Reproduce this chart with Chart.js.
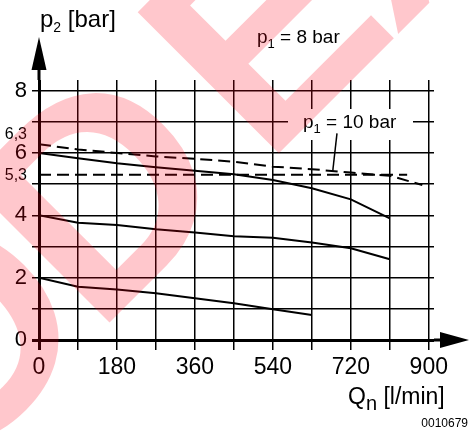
<!DOCTYPE html>
<html>
<head>
<meta charset="utf-8">
<script src="https://cdn.jsdelivr.net/npm/chart.js@4.4.1/dist/chart.umd.min.js"></script>
<style>
  html, body { margin: 0; padding: 0; background: #fff; }
  #wrap { width: 469px; height: 431px; }
</style>
</head>
<body>
<div id="wrap"><canvas id="chart" width="469" height="431"></canvas></div>
<script>
// grid and tick labels
const qGrid = [0, 90, 180, 270, 360, 450, 540, 630, 720, 810, 900];
const qLabels = [0, 180, 360, 540, 720, 900];
const pGrid = [0, 1, 2, 3, 4, 5, 6, 7, 8];
const pLabels = [0, 2, 4, 6, 8];
const pMarks = [6.3, 5.3];
const pMarkText = ['6,3', '5,3'];

// p1 = 8 bar, solid curves
const qHigh = [0, 90, 180, 270, 360, 450, 540, 630, 720, 810];
const p2Set6 = [6.0, 5.83, 5.67, 5.54, 5.43, 5.32, 5.13, 4.87, 4.51, 3.9];
const p2Set4 = [4.0, 3.76, 3.69, 3.55, 3.45, 3.33, 3.28, 3.13, 2.94, 2.59];
const qLow = [0, 90, 180, 270, 360, 450, 540, 630];
const p2Set2 = [2.0, 1.71, 1.62, 1.5, 1.34, 1.18, 0.99, 0.8];

// p1 = 10 bar, dashed curves
const qDash63 = [0, 90, 180, 270, 360, 450, 540, 630, 720, 810, 885];
const p2Set63 = [6.28, 6.11, 6.0, 5.89, 5.81, 5.72, 5.56, 5.48, 5.37, 5.27, 4.97];
const qDash53 = [0, 850];
const p2Set53 = [5.3, 5.3];

// leader from the "p1 = 10 bar" label
const leaderQ = [688, 678];
const leaderP = [6.63, 5.39];

const FONT = '"Liberation Sans", Arial, sans-serif';

function pts(xs, ys) { return xs.map((x, i) => ({ x: x, y: ys[i] })); }

function line(xs, ys, dashed) {
    return {
        data: pts(xs, ys),
        borderColor: '#000',
        borderWidth: 2,
        borderDash: dashed ? [12, 6] : [],
        pointRadius: 0,
        tension: 0,
        fill: false
    };
}

// text with sub parts: [text, size, dy]
function rich(ctx, x, y, parts) {
    ctx.textAlign = 'left';
    ctx.textBaseline = 'alphabetic';
    parts.forEach(p => {
        ctx.font = p[1] + 'px ' + FONT;
        ctx.fillText(p[0], x, y + (p[2] || 0));
        x += ctx.measureText(p[0]).width;
    });
}

// diagonal stamp letters: [char, offset along the baseline, align]
function stamp(ctx) {
    const em = 290;
    const letters = [['O', -271, 'center'], ['D', -170, 'left'],
                     ['E', 110 - 0.14 * em, 'left'], ['X', 255, 'left']];
    ctx.font = 'bold ' + em + 'px ' + FONT;
    ctx.fillStyle = 'rgba(255,0,25,0.22)';
    ctx.textBaseline = 'alphabetic';
    letters.forEach(l => {
        const x = (432 + Math.SQRT2 * l[1]) / 2, y = (432 - Math.SQRT2 * l[1]) / 2;
        ctx.save();
        ctx.translate(x, y);
        ctx.rotate(-Math.PI / 4);
        ctx.textAlign = l[2];
        ctx.fillText(l[0], 0, 0);
        ctx.restore();
    });
}

const decor = {
    id: 'decor',
    afterDraw(chart) {
        const ctx = chart.ctx;
        const xs = chart.scales.x, ys = chart.scales.y;
        const x0 = xs.getPixelForValue(0), y0 = ys.getPixelForValue(0);
        ctx.save();
        ctx.fillStyle = '#000';
        ctx.strokeStyle = '#000';

        // axes with arrows
        ctx.lineWidth = 3;
        ctx.beginPath();
        ctx.moveTo(x0, chart.chartArea.top);
        ctx.lineTo(x0, 70);
        ctx.moveTo(chart.chartArea.right, y0);
        ctx.lineTo(440, y0);
        ctx.stroke();
        ctx.beginPath();
        ctx.moveTo(x0, 37); ctx.lineTo(x0 - 7.5, 70); ctx.lineTo(x0 + 7.5, 70); ctx.closePath();
        ctx.fill();
        ctx.beginPath();
        ctx.moveTo(469, y0); ctx.lineTo(440, y0 - 8); ctx.lineTo(440, y0 + 8); ctx.closePath();
        ctx.fill();

        // small y marks
        ctx.font = '16px ' + FONT;
        ctx.textAlign = 'right';
        ctx.textBaseline = 'middle';
        const off = [-9.5, 0.5];
        pMarks.forEach((v, i) => ctx.fillText(pMarkText[i], 27, ys.getPixelForValue(v) + off[i]));

        // axis titles
        rich(ctx, 40, 27, [['p', 24], ['2', 14, 5], [' [bar]', 24]]);
        rich(ctx, 348, 404, [['Q', 23], ['n', 20, 6], [' [l/min]', 23]]);

        // figure code
        ctx.font = '12px "Liberation Sans Narrow", ' + FONT;
        ctx.textAlign = 'right';
        ctx.textBaseline = 'alphabetic';
        ctx.fillText('0010679', 468, 427);

        // curve labels
        rich(ctx, 257, 43, [['p', 19], ['1', 13, 5], [' = 8 bar', 19]]);
        ctx.fillStyle = '#fff';
        ctx.fillRect(288, 109, 125, 31);
        ctx.fillStyle = '#000';
        ctx.lineWidth = 1.5;
        ctx.beginPath();
        ctx.moveTo(xs.getPixelForValue(leaderQ[0]), ys.getPixelForValue(leaderP[0]));
        ctx.lineTo(xs.getPixelForValue(leaderQ[1]), ys.getPixelForValue(leaderP[1]));
        ctx.stroke();
        rich(ctx, 303, 128, [['p', 19], ['1', 13, 5], [' = 10 bar', 19]]);

        stamp(ctx);
        ctx.restore();
    }
};

new Chart(document.getElementById('chart'), {
    type: 'line',
    data: {
        datasets: [
            line(qHigh, p2Set6, false),
            line(qHigh, p2Set4, false),
            line(qLow, p2Set2, false),
            line(qDash63, p2Set63, true),
            line(qDash53, p2Set53, true)
        ]
    },
    options: {
        responsive: false,
        animation: false,
        layout: { padding: { top: 80, right: 35, left: 0, bottom: 0 } },
        plugins: { legend: { display: false }, tooltip: { enabled: false } },
        scales: {
            x: {
                type: 'linear',
                min: 0,
                max: 912,
                afterBuildTicks: s => { s.ticks = qGrid.map(v => ({ value: v })); },
                afterFit: s => { s.height = 91; },
                border: { display: false },
                grid: {
                    color: '#000',
                    lineWidth: c => (c.tick && c.tick.value === 0) ? 3 : 1.5,
                    tickLength: 10
                },
                ticks: {
                    color: '#000',
                    font: { family: FONT, size: 23 },
                    padding: 4,
                    maxRotation: 0,
                    autoSkip: false,
                    callback: v => qLabels.includes(v) ? String(v) : ''
                }
            },
            y: {
                min: 0,
                max: 8.34,
                afterBuildTicks: s => { s.ticks = pGrid.map(v => ({ value: v })); },
                afterFit: s => { s.width = 39; },
                border: { display: false },
                grid: {
                    color: '#000',
                    lineWidth: c => (c.tick && c.tick.value === 0) ? 3 : 1.5,
                    tickLength: 7
                },
                ticks: {
                    color: '#000',
                    font: { family: FONT, size: 22 },
                    padding: 5,
                    autoSkip: false,
                    callback: v => pLabels.includes(v) ? String(v) : ''
                }
            }
        }
    },
    plugins: [decor]
});
</script>
</body>
</html>
